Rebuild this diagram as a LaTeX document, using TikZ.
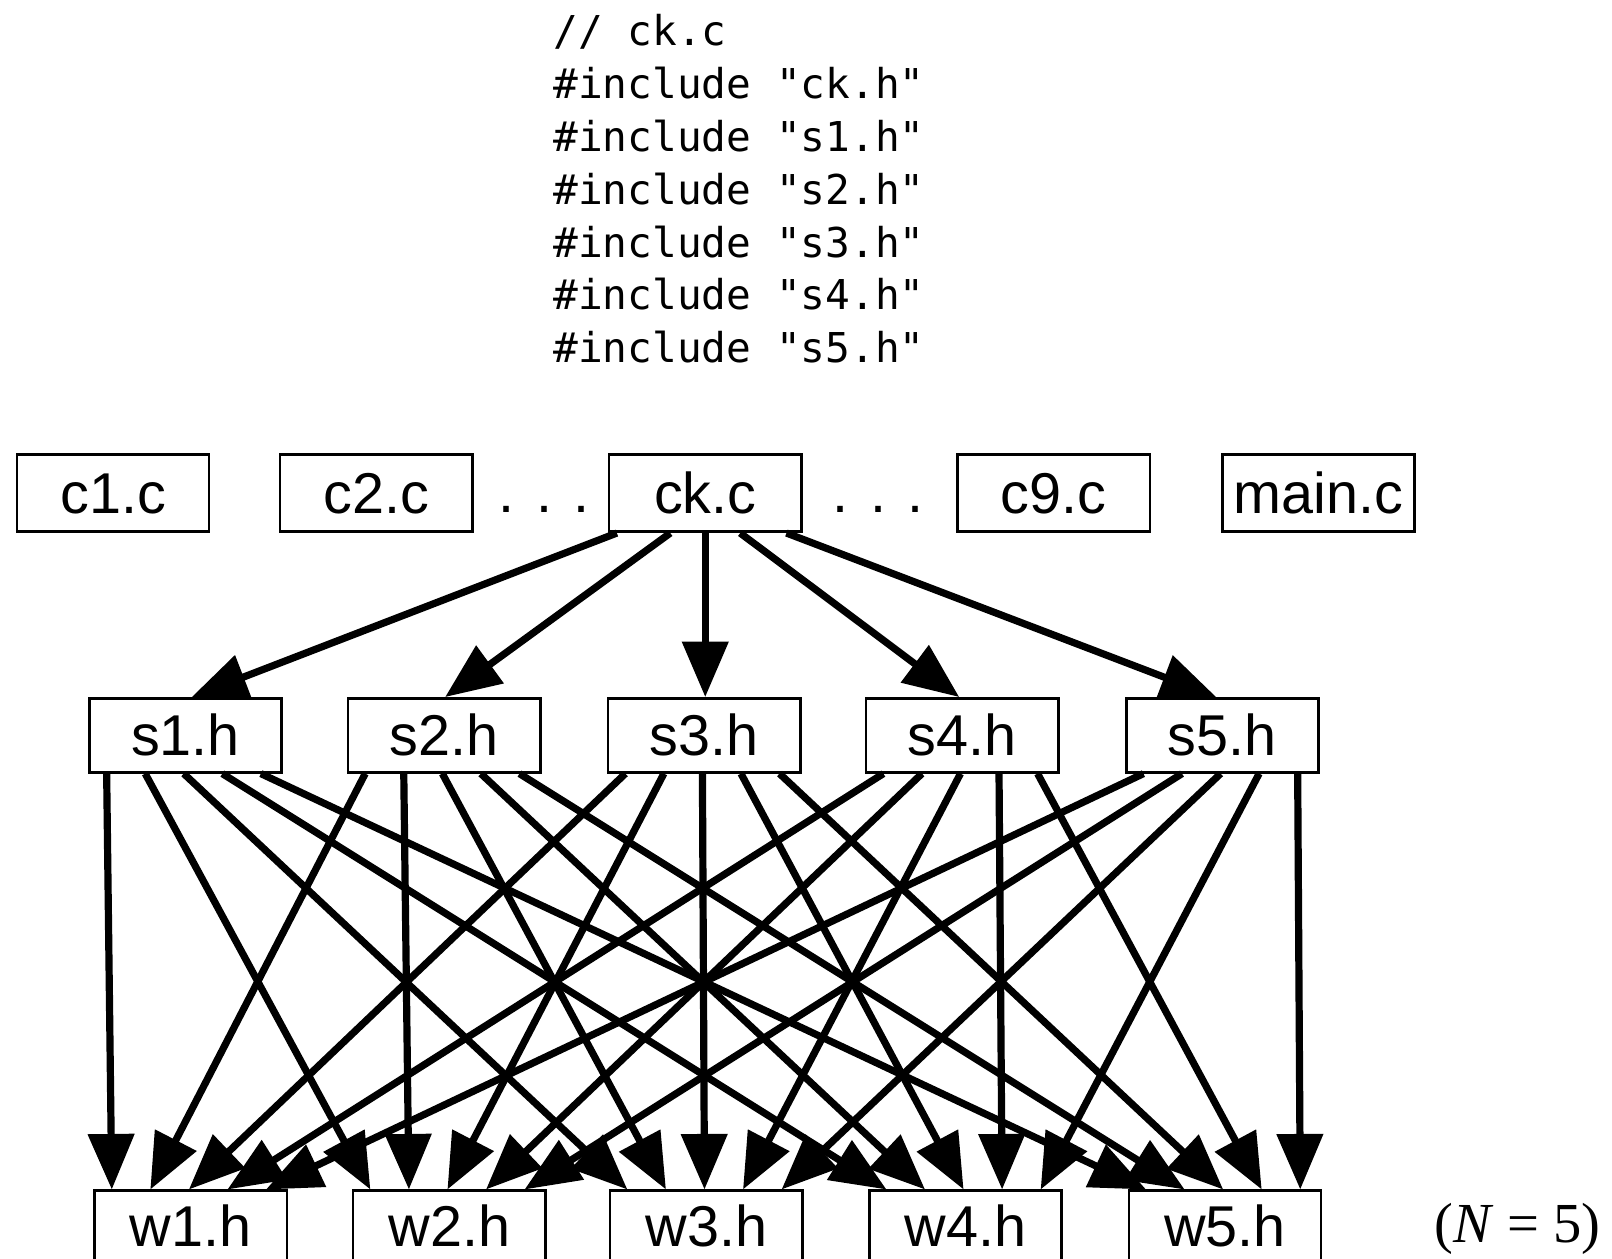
\documentclass[tikz,border=0pt]{standalone}
\usepackage{fontspec}
\setmainfont{Liberation Sans}
\newfontfamily\codefont{DejaVu Sans Mono}
\newfontfamily\seriffont{Liberation Serif}
\usetikzlibrary{arrows.meta}
\begin{document}
\begin{tikzpicture}[x=1pt,y=-1pt,
  lbl/.style={font=\fontsize{56}{60}\selectfont, text height=40pt, text depth=0pt},
  filebox/.style={lbl, draw, line width=2.5pt, inner xsep=0pt, minimum width=187pt, anchor=north},
  crow/.style={filebox, inner ysep=17.5pt},
  srow/.style={filebox, inner ysep=16pt},
  wrow/.style={filebox, inner ysep=14pt, text depth=30pt},
  dots/.style={lbl, anchor=base west, inner sep=0pt},
  code/.style={font=\codefont\fontsize{40}{48}\selectfont, anchor=base west, inner sep=0pt},
  dep/.style={line width=7pt, -{Triangle[length=54pt,width=44pt]}},
]
\useasboundingbox (0,0) rectangle (1568,1224.6);
\clip (0,0) rectangle (1568,1224.6);

% code listing
\node[code] (l0) at (538,44)    {// ck.c};
\node[code] (l1) at (538,95.5)  {\#include "ck.h"};
\node[code] (l2) at (538,147)   {\#include "s1.h"};
\node[code] (l3) at (538,198.5) {\#include "s2.h"};
\node[code] (l4) at (538,250)   {\#include "s3.h"};
\node[code] (l5) at (538,301.5) {\#include "s4.h"};
\node[code] (l6) at (538,353)   {\#include "s5.h"};

% .c files
\node[crow] (c1) at (110,441) {c1.c};
\node[crow] (c2) at (366,441) {c2.c};
\node[dots] (d1) at (485,498.5) {. . .};
\node[crow] (ck) at (686,441) {ck.c};
\node[dots] (d2) at (810,498.5) {. . .};
\node[crow] (c9) at (1025,441) {c9.c};
\node[crow] (mainc) at (1282.5,441) {main.c};

% s headers
\node[srow] (s1) at (180.5,678) {s1.h};
\node[srow] (s2) at (432,678) {s2.h};
\node[srow] (s3) at (685,678) {s3.h};
\node[srow] (s4) at (936,678) {s4.h};
\node[srow] (s5) at (1189,678) {s5.h};

% w headers
\node[wrow] (w1) at (185.5,1157) {w1.h};
\node[wrow] (w2) at (437,1157) {w2.h};
\node[wrow] (w3) at (687,1157) {w3.h};
\node[wrow] (w4) at (939,1157) {w4.h};
\node[wrow] (w5) at (1191.5,1157) {w5.h};

\node[font=\seriffont\fontsize{55}{60}\selectfont, anchor=base west, inner sep=0pt] (n) at (1395,1209) {(\textit{N} = 5)};

% ck.c -> s_i
\draw[dep] ([xshift=-86pt]ck.south) -- ([xshift=6pt]s1.north);
\draw[dep] ([xshift=-34pt]ck.south) -- ([xshift=1pt]s2.north);
\draw[dep] (ck.south) -- (ck.south |- s3.north);
\draw[dep] ([xshift=34pt]ck.south) -- ([xshift=-3pt]s4.north);
\draw[dep] ([xshift=79pt]ck.south) -- ([xshift=-6pt]s5.north);

% s_i -> w_j
\foreach \i in {1,...,5}{
  \foreach \j in {1,...,5}{
    \pgfmathsetmacro\sx{18+37.5*(\j-1)}
    \pgfmathsetmacro\ex{18+37.5*(\i-1)}
    \draw[dep] ([xshift=\sx pt]s\i.south west) -- ([xshift=\ex pt]w\j.north west);
  }
}
\end{tikzpicture}
\end{document}
